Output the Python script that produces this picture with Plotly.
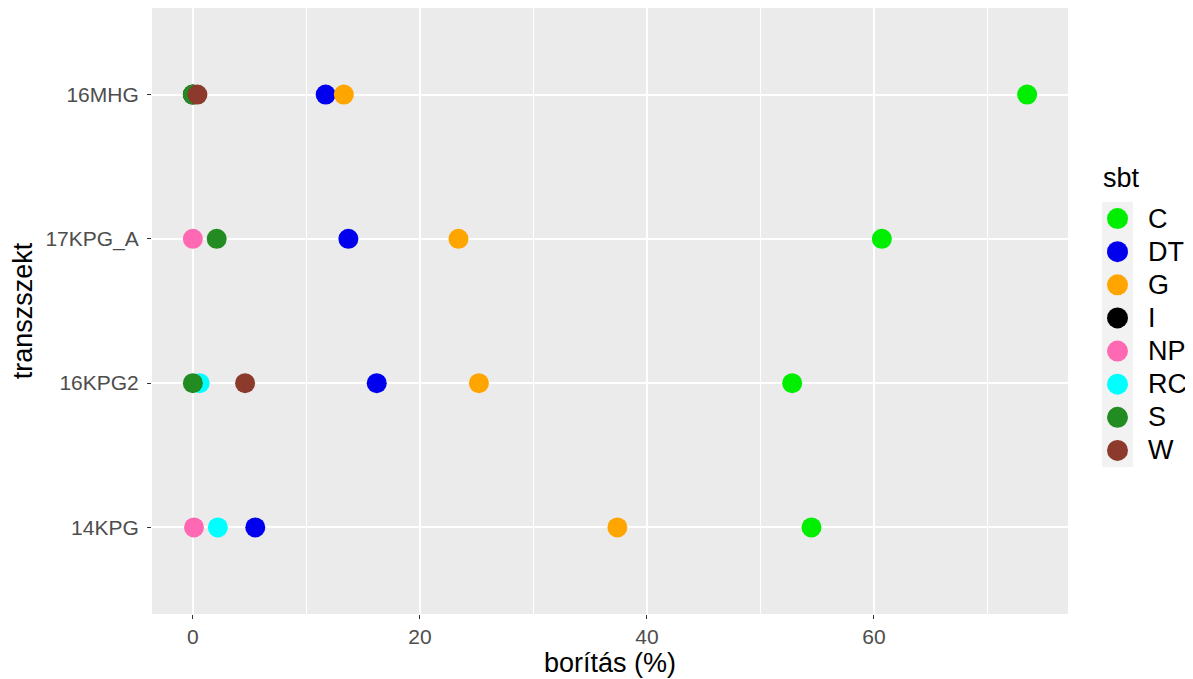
import plotly.graph_objects as go

transects = ["14KPG", "16KPG2", "17KPG_A", "16MHG"]
groups = ["C", "DT", "G", "I", "NP", "RC", "S", "W"]
colors = {"C": "#00EE00", "DT": "#0000EE", "G": "#FFA500", "I": "#000000",
          "NP": "#FF69B4", "RC": "#00FFFF", "S": "#228B22", "W": "#8B3A2B"}

# cover (%) per group, keyed by transect
C_vals = {"14KPG": 54.5, "16KPG2": 52.8, "17KPG_A": 60.7, "16MHG": 73.5}
DT_vals = {"14KPG": 5.5, "16KPG2": 16.2, "17KPG_A": 13.7, "16MHG": 11.7}
G_vals = {"14KPG": 37.4, "16KPG2": 25.2, "17KPG_A": 23.4, "16MHG": 13.3}
I_vals = {"16MHG": 0.0}
NP_vals = {"14KPG": 0.1, "17KPG_A": 0.0}
RC_vals = {"14KPG": 2.2, "16KPG2": 0.6}
S_vals = {"16KPG2": 0.0, "17KPG_A": 2.1, "16MHG": 0.0}
W_vals = {"16KPG2": 4.6, "16MHG": 0.4}

data = {"C": C_vals, "DT": DT_vals, "G": G_vals, "I": I_vals,
        "NP": NP_vals, "RC": RC_vals, "S": S_vals, "W": W_vals}

# page body has an 8px margin; figure coordinates = screen - 8
OFF = 8
W, H = 1185, 671
L, R, T, B = 144, 0, 0, 65
pw, ph = W - L - R, H - T - B

def px_x(p):
    return (p - OFF - L) / pw

def px_y(p):
    return (H - B - (p - OFF)) / ph

fig = go.Figure()
for g in groups:
    d = data[g]
    fig.add_trace(go.Scatter(
        x=list(d.values()), y=list(d.keys()), mode="markers", name=g,
        marker=dict(size=20, color=colors[g], line=dict(width=0)),
        xaxis="x", yaxis="y", showlegend=False,
    ))

# legend keys (ggplot-style) on their own small axes
fig.add_trace(go.Scatter(
    x=[0] * len(groups), y=groups, mode="markers",
    marker=dict(size=21, color=[colors[g] for g in groups], line=dict(width=0)),
    xaxis="x2", yaxis="y2", showlegend=False, hoverinfo="skip",
))

key_x0, key_x1 = px_x(1102), px_x(1133)
key_y0, key_y1 = px_y(467), px_y(202)

fig.add_shape(type="rect", xref="x2 domain", yref="y2 domain",
              x0=0, x1=1, y0=0, y1=1,
              fillcolor="#F2F2F2", line=dict(width=0), layer="below")

annotations = [dict(text="sbt", xref="paper", yref="paper", x=px_x(1101), y=px_y(178),
                    xanchor="left", yanchor="middle", showarrow=False,
                    font=dict(size=27, color="black"))]
n = len(groups)
for i, g in enumerate(groups):
    yc = key_y1 - (i + 0.5) * (key_y1 - key_y0) / n
    annotations.append(dict(text=g, xref="paper", yref="paper", x=px_x(1146), y=yc,
                            xanchor="left", yanchor="middle", showarrow=False,
                            font=dict(size=27, color="black")))

fig.update_layout(
    width=W, height=H,
    margin=dict(l=L, r=R, t=T, b=B),
    paper_bgcolor="white", plot_bgcolor="#EBEBEB",
    font=dict(family="Liberation Sans, Arial, sans-serif", size=21, color="#4D4D4D"),
    showlegend=False,
    annotations=annotations,
    xaxis=dict(domain=[0, px_x(1068)], range=[-3.6, 77.1],
               tickvals=[0, 20, 40, 60], ticktext=["0", "20", "40", "60"],
               showgrid=True, gridcolor="white", gridwidth=1.6,
               minor=dict(tickvals=[10, 30, 50, 70], showgrid=True, gridcolor="white", gridwidth=0.8),
               zeroline=False, ticks="outside", ticklen=4, tickcolor="#333333",
               tickfont=dict(size=21, color="#4D4D4D"),
               title=dict(text="borítás (%)", font=dict(size=27, color="black"), standoff=2)),
    yaxis=dict(domain=[0, 1], type="category", categoryorder="array", categoryarray=transects,
               range=[-0.6, 3.6], showgrid=True, gridcolor="white", gridwidth=1.6,
               zeroline=False, ticks="outside", ticklen=4, tickcolor="#333333",
               ticklabelstandoff=4,
               tickfont=dict(size=21, color="#4D4D4D"),
               title=dict(text="transzszekt", font=dict(size=27, color="black"), standoff=10)),
    xaxis2=dict(domain=[key_x0, key_x1], range=[-1, 1], visible=False, fixedrange=True),
    yaxis2=dict(domain=[key_y0, key_y1], type="category", categoryorder="array",
                categoryarray=groups, range=[n - 0.5, -0.5], visible=False, fixedrange=True),
)

fig.write_html("out.html")
